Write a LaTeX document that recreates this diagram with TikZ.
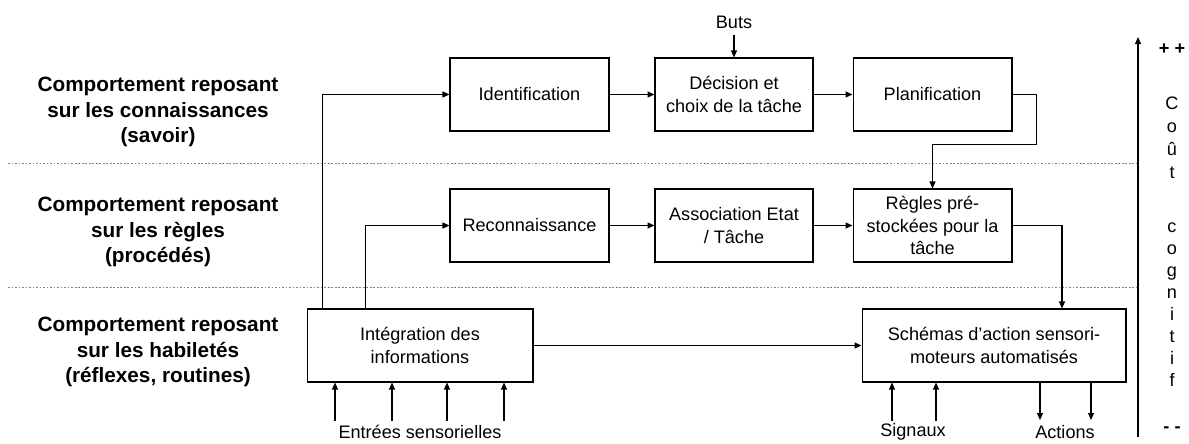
\documentclass[tikz,border=0pt]{standalone}
\usepackage{fontspec}
\setmainfont{Liberation Sans}
\usetikzlibrary{arrows.meta}

\tikzset{
  box/.style={draw, line width=0.6pt, align=center, minimum height=1.46cm, inner sep=2pt},
  arr/.style={line width=0.6pt, -{Triangle[length=1.4mm,width=1.2mm]}},
  sep/.style={gray, line width=0.4pt, dash pattern=on 1pt off 1pt},
  level/.style={align=center, font=\fontsize{11.8}{14.4}\selectfont\bfseries},
}

\begin{document}
\begin{tikzpicture}[x=0.02cm, y=-0.02cm, font=\fontsize{10.3}{13}\selectfont]
\useasboundingbox (0,0) rectangle (1189,443);

% niveaux
\node[level] (savoir) at (158,112) {Comportement reposant\\sur les connaissances\\(savoir)};
\node[level] (regles) at (158,232) {Comportement reposant\\sur les règles\\(procédés)};
\node[level] (habiletes) at (158,352) {Comportement reposant\\sur les habiletés\\(réflexes, routines)};

\draw[sep] (8,163) -- (1138,163);
\draw[sep] (8,287) -- (1138,287);

% boites
\node[box, minimum width=3.18cm] (ident) at (529.5,94.5) {Identification};
\node[box, minimum width=3.16cm] (decision) at (734,94.5) {Décision et\\choix de la tâche};
\node[box, minimum width=3.18cm] (planif) at (932.5,94.5) {Planification};

\node[box, minimum width=3.18cm] (recon) at (529.5,225.5) {Reconnaissance};
\node[box, minimum width=3.16cm] (assoc) at (734,225.5) {Association Etat\\/ Tâche};
\node[box, minimum width=3.18cm] (prestock) at (932.5,225.5) {Règles pré-\\stockées pour la\\tâche};

\node[box, minimum width=4.52cm] (integ) at (420,345.5) {Intégration des\\informations};
\node[box, minimum width=5.28cm] (schemas) at (994,345.5) {Schémas d’action sensori-\\moteurs automatisés};

\node (buts) at (734,22) {Buts};
\node (entrees) at (420,432) {Entrées sensorielles};
\node (signaux) at (913,432) {Signaux};
\node (actions) at (1065,432) {Actions};

% liaisons
\draw[arr] (buts) -- (decision);
\draw[arr] (ident) -- (decision);
\draw[arr] (decision) -- (planif);
\draw[arr] (recon) -- (assoc);
\draw[arr] (assoc) -- (prestock);
\draw[arr] ([xshift=0.32cm]integ.north west) |- (ident.west);
\draw[arr] ([xshift=1.18cm]integ.north west) |- (recon.west);
\draw[arr] (planif.east) -- ++(24,0) -- ++(0,50) -| (prestock.north);
\draw[arr] (prestock.east) -| ([xshift=1.36cm]schemas.north);
\draw[arr] (integ) -- (schemas);

% entrees et sorties
\coordinate (e1) at (335,421);
\coordinate (e2) at (392,421);
\coordinate (e3) at (447,421);
\coordinate (e4) at (504,421);
\draw[arr] (e1) -- (e1 |- integ.south);
\draw[arr] (e2) -- (e2 |- integ.south);
\draw[arr] (e3) -- (e3 |- integ.south);
\draw[arr] (e4) -- (e4 |- integ.south);

\coordinate (s1) at (892,421);
\coordinate (s2) at (936,421);
\draw[arr] (s1) -- (s1 |- schemas.south);
\draw[arr] (s2) -- (s2 |- schemas.south);

\coordinate (a1) at (1040,420);
\coordinate (a2) at (1091,420);
\draw[arr] (a1 |- schemas.south) -- (a1);
\draw[arr] (a2 |- schemas.south) -- (a2);

% axe du cout cognitif
\coordinate (axbot) at (1138,437);
\coordinate (axtop) at (1138,37);
\draw[arr] (axbot) -- (axtop);

\node[font=\fontsize{10.3}{13}\selectfont\bfseries] (plus) at (1172,49) {+ +};
\node[align=center, font=\fontsize{10.3}{13}\selectfont] (cout) at (1172,138) {C\\o\\û\\t};
\node[align=center, font=\fontsize{10.3}{12.5}\selectfont] (cognitif) at (1172,304.5) {c\\o\\g\\n\\i\\t\\i\\f};
\node[font=\fontsize{10.3}{13}\selectfont\bfseries] (moins) at (1172,430) {- -};

\end{tikzpicture}
\end{document}
